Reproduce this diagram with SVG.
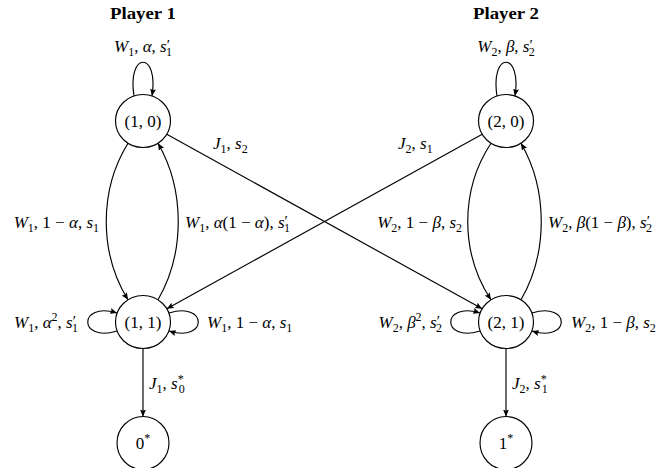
<svg xmlns="http://www.w3.org/2000/svg" width="664" height="468" viewBox="0 0 664 468">
<style>
.m{font-family:"Liberation Serif","DejaVu Serif",serif;font-size:17px;fill:#000}
.i{font-style:italic}
.sb{font-size:12px}
.pr{font-size:15px}
.t{font-family:"Liberation Serif","DejaVu Serif",serif;font-weight:bold;font-size:16px;fill:#000}
.n{fill:#fff;stroke:#000;stroke-width:1.15}
.e{fill:none;stroke:#000;stroke-width:1.15}
</style>
<defs>
<marker id="ah" markerUnits="userSpaceOnUse" markerWidth="10" markerHeight="8" refX="7" refY="3" orient="auto"><path d="M0,0 L7,3 L0,6 L1.2,3 z" fill="#000"/></marker>
</defs>
<text class="t" x="143" y="19" text-anchor="middle" textLength="66" lengthAdjust="spacingAndGlyphs">Player 1</text>
<text class="t" x="506" y="19" text-anchor="middle" textLength="66" lengthAdjust="spacingAndGlyphs">Player 2</text>
<g id="edges">
<path class="e" d="M134,96 C127,51 159,51 152,96" marker-end="url(#ah)"/>
<path class="e" d="M497,96 C490,51 522,51 515,96" marker-end="url(#ah)"/>
<path class="e" d="M128,143.2 C99,190 99,253 128,299.8" marker-end="url(#ah)"/>
<path class="e" d="M158,299.8 C185,253 185,190 158,143.2" marker-end="url(#ah)"/>
<path class="e" d="M491,143.2 C460,190 460,253 491,299.8" marker-end="url(#ah)"/>
<path class="e" d="M521,299.8 C548,253 548,190 521,143.2" marker-end="url(#ah)"/>
<path class="e" d="M166.8,134.2 L482.2,308.8" marker-end="url(#ah)"/>
<path class="e" d="M482.2,134.2 L166.8,308.8" marker-end="url(#ah)"/>
<path class="e" d="M117,331 C78,343 78,301 117,313" marker-end="url(#ah)"/>
<path class="e" d="M169,313 C208,301 208,343 169,331" marker-end="url(#ah)"/>
<path class="e" d="M480,331 C441,343 441,301 480,313" marker-end="url(#ah)"/>
<path class="e" d="M532,313 C571,301 571,343 532,331" marker-end="url(#ah)"/>
<path class="e" d="M143,348.5 L143,416.5" marker-end="url(#ah)"/>
<path class="e" d="M506,348.5 L506,416.5" marker-end="url(#ah)"/>
</g>
<g id="edge-labels">
<text class="m" x="143" y="52" text-anchor="middle"><tspan class="i">W</tspan><tspan class="sb" dy="4">1</tspan><tspan dy="-4">, </tspan><tspan class="i">α</tspan>, <tspan class="i">s</tspan><tspan class="pr" dy="-2">′</tspan><tspan class="sb" dx="-4" dy="6">1</tspan></text>
<text class="m" x="506" y="52" text-anchor="middle"><tspan class="i">W</tspan><tspan class="sb" dy="4">2</tspan><tspan dy="-4">, </tspan><tspan class="i">β</tspan>, <tspan class="i">s</tspan><tspan class="pr" dy="-2">′</tspan><tspan class="sb" dx="-4" dy="6">2</tspan></text>
<text class="m" x="99" y="228" text-anchor="end"><tspan class="i">W</tspan><tspan class="sb" dy="4">1</tspan><tspan dy="-4">, 1 − </tspan><tspan class="i">α</tspan>, <tspan class="i">s</tspan><tspan class="sb" dy="4">1</tspan></text>
<text class="m" x="185" y="228"><tspan class="i">W</tspan><tspan class="sb" dy="4">1</tspan><tspan dy="-4">, </tspan><tspan class="i">α</tspan>(1 − <tspan class="i">α</tspan>), <tspan class="i">s</tspan><tspan class="pr" dy="-2">′</tspan><tspan class="sb" dx="-4" dy="6">1</tspan></text>
<text class="m" x="213" y="149"><tspan class="i">J</tspan><tspan class="sb" dy="4">1</tspan><tspan dy="-4">, </tspan><tspan class="i">s</tspan><tspan class="sb" dy="4">2</tspan></text>
<text class="m" x="398" y="149"><tspan class="i">J</tspan><tspan class="sb" dy="4">2</tspan><tspan dy="-4">, </tspan><tspan class="i">s</tspan><tspan class="sb" dy="4">1</tspan></text>
<text class="m" x="462" y="228" text-anchor="end"><tspan class="i">W</tspan><tspan class="sb" dy="4">2</tspan><tspan dy="-4">, 1 − </tspan><tspan class="i">β</tspan>, <tspan class="i">s</tspan><tspan class="sb" dy="4">2</tspan></text>
<text class="m" x="548" y="228"><tspan class="i">W</tspan><tspan class="sb" dy="4">2</tspan><tspan dy="-4">, </tspan><tspan class="i">β</tspan>(1 − <tspan class="i">β</tspan>), <tspan class="i">s</tspan><tspan class="pr" dy="-2">′</tspan><tspan class="sb" dx="-4" dy="6">2</tspan></text>
<text class="m" x="78" y="328" text-anchor="end"><tspan class="i">W</tspan><tspan class="sb" dy="4">1</tspan><tspan dy="-4">, </tspan><tspan class="i">α</tspan><tspan class="sb" dy="-7">2</tspan><tspan dy="7">, </tspan><tspan class="i">s</tspan><tspan class="pr" dy="-2">′</tspan><tspan class="sb" dx="-4" dy="6">1</tspan></text>
<text class="m" x="207" y="328"><tspan class="i">W</tspan><tspan class="sb" dy="4">1</tspan><tspan dy="-4">, 1 − </tspan><tspan class="i">α</tspan>, <tspan class="i">s</tspan><tspan class="sb" dy="4">1</tspan></text>
<text class="m" x="442" y="328" text-anchor="end"><tspan class="i">W</tspan><tspan class="sb" dy="4">2</tspan><tspan dy="-4">, </tspan><tspan class="i">β</tspan><tspan class="sb" dy="-7">2</tspan><tspan dy="7">, </tspan><tspan class="i">s</tspan><tspan class="pr" dy="-2">′</tspan><tspan class="sb" dx="-4" dy="6">2</tspan></text>
<text class="m" x="571" y="328"><tspan class="i">W</tspan><tspan class="sb" dy="4">2</tspan><tspan dy="-4">, 1 − </tspan><tspan class="i">β</tspan>, <tspan class="i">s</tspan><tspan class="sb" dy="4">2</tspan></text>
<text class="m" x="149" y="389"><tspan class="i">J</tspan><tspan class="sb" dy="4">1</tspan><tspan dy="-4">, </tspan><tspan class="i">s</tspan><tspan class="sb" dy="-6">*</tspan><tspan class="sb" dx="-5" dy="10">0</tspan></text>
<text class="m" x="512" y="389"><tspan class="i">J</tspan><tspan class="sb" dy="4">2</tspan><tspan dy="-4">, </tspan><tspan class="i">s</tspan><tspan class="sb" dy="-6">*</tspan><tspan class="sb" dx="-5" dy="10">1</tspan></text>
</g>
<g id="n10"><ellipse class="n" cx="143" cy="121" rx="27.5" ry="26.5"/><text class="m" x="143" y="127" text-anchor="middle">(1, 0)</text></g>
<g id="n20"><ellipse class="n" cx="506" cy="121" rx="27.5" ry="26.5"/><text class="m" x="506" y="127" text-anchor="middle">(2, 0)</text></g>
<g id="n11"><ellipse class="n" cx="143" cy="322" rx="27.5" ry="26.5"/><text class="m" x="143" y="328" text-anchor="middle">(1, 1)</text></g>
<g id="n21"><ellipse class="n" cx="506" cy="322" rx="27.5" ry="26.5"/><text class="m" x="506" y="328" text-anchor="middle">(2, 1)</text></g>
<g id="n0s"><ellipse class="n" cx="143" cy="443" rx="26" ry="26.5"/><text class="m" x="143" y="449" text-anchor="middle">0<tspan class="sb" dy="-7">*</tspan></text></g>
<g id="n1s"><ellipse class="n" cx="506" cy="443" rx="26" ry="26.5"/><text class="m" x="506" y="449" text-anchor="middle">1<tspan class="sb" dy="-7">*</tspan></text></g>
</svg>
